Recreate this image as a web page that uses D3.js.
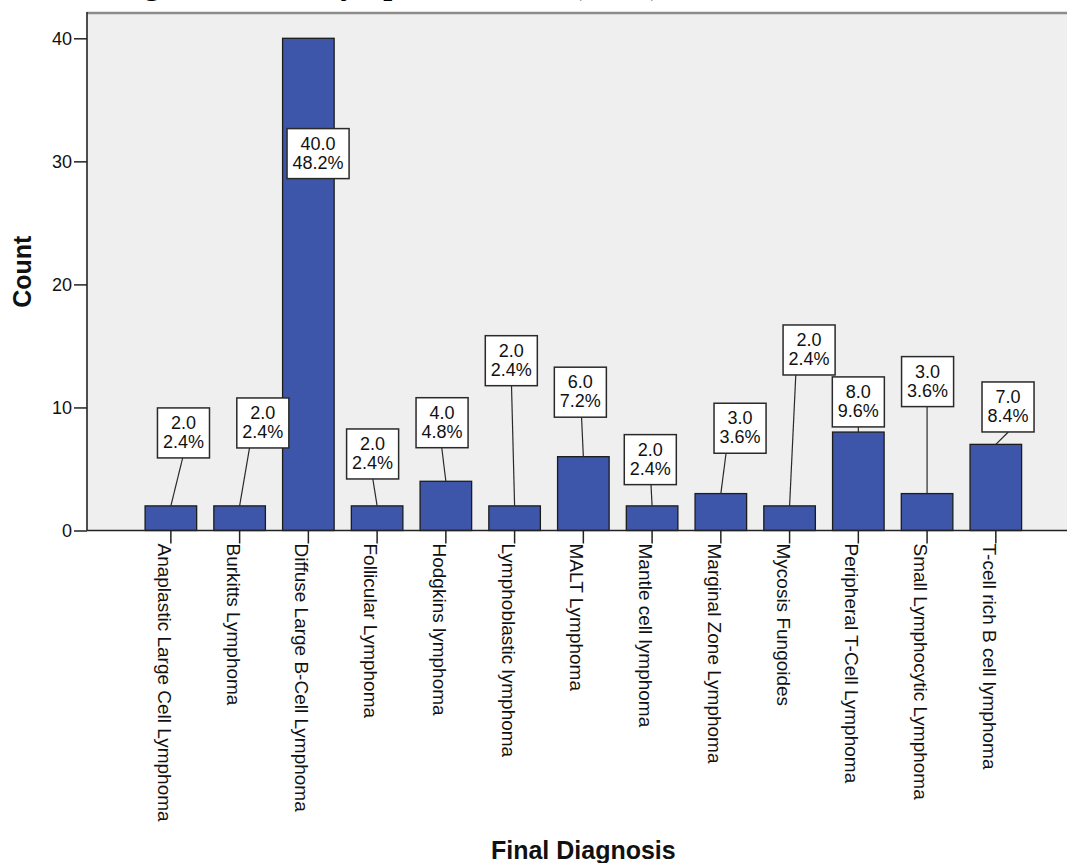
<!DOCTYPE html>
<html>
<head>
<meta charset="utf-8">
<script src="https://cdn.jsdelivr.net/npm/d3@7"></script>
<style>
  body { margin: 0; background: #fff; }
  svg { display: block; }
  text { font-family: "Liberation Sans", Arial, sans-serif; }
</style>
</head>
<body>
<svg id="chart" width="1067" height="863"></svg>
<script>
// ---- data ----
const categories = [
  "Anaplastic Large Cell Lymphoma",
  "Burkitts Lymphoma",
  "Diffuse Large B-Cell Lymphoma",
  "Follicular Lymphoma",
  "Hodgkins lymphoma",
  "Lymphoblastic lymphoma",
  "MALT Lymphoma",
  "Mantle cell lymphoma",
  "Marginal Zone Lymphoma",
  "Mycosis Fungoides",
  "Peripheral T-Cell Lymphoma",
  "Small Lymphocytic Lymphoma",
  "T-cell rich B cell lymphoma"
];
const counts   = [2, 2, 40, 2, 4, 2, 6, 2, 3, 2, 8, 3, 7];
const percents = ["2.4%", "2.4%", "48.2%", "2.4%", "4.8%", "2.4%", "7.2%", "2.4%", "3.6%", "2.4%", "9.6%", "3.6%", "8.4%"];
const yTicks   = [0, 10, 20, 30, 40];
const titleText = "Final Diagnosis of the Lymphoma Cases (n=83)";
const xTitle = "Final Diagnosis";
const yTitle = "Count";

// ---- label layout (box centre offset px from band centre, box centre height in count units, leader end offset px) ----
const labelDx  = [12.6, 23.2, 9.7, -4.5, -3.8, -3.3, -3, -1.8, 19.2, 19.5, 0, 0.5, 12.2];
const labelY   = [7.93, 8.74, 30.63, 6.22, 8.76, 13.80, 11.24, 5.76, 8.31, 14.67, 10.45, 12.10, 10.04];
const leaderDx = [11.8, 9.9, null, -4.3, -4.1, -3.1, -1.8, -1.1, 5.2, 6.2, 0, 0, 12.5];

// ---- layout ----
const W = 1067, H = 863;
const plotLeft = 87, plotTop = 13, plotBottom = 530.5, plotRight = W;

const svg = d3.select("#chart");

const y = d3.scaleLinear().domain([0, 40]).range([plotBottom, 38.3]);
const x = d3.scaleBand().domain(categories)
  .range([136.5, 1030.2]).paddingInner(0.25).paddingOuter(0.125);
const cx = d => x(d) + x.bandwidth() / 2;

// title (cropped at the top edge, as in the reference)
const title = svg.append("text")
  .attr("y", -6)
  .style("font-family", "'Liberation Serif', 'Times New Roman', serif")
  .attr("font-weight", "bold")
  .attr("font-size", 32)
  .attr("fill", "#000")
  .text(titleText);
{
  const node = title.node();
  const gi = titleText.indexOf("g");
  const before = node.getSubStringLength(0, gi);
  const gw = node.getSubStringLength(gi, 1);
  title.attr("x", 152 - before - gw / 2);
}

// plot background
svg.append("rect")
  .attr("x", plotLeft).attr("y", plotTop)
  .attr("width", plotRight - plotLeft).attr("height", plotBottom - plotTop)
  .attr("fill", "#efefef");

svg.append("line")
  .attr("x1", plotLeft).attr("x2", plotRight)
  .attr("y1", plotTop).attr("y2", plotTop)
  .attr("stroke", "#8c8c8c").attr("stroke-width", 2.5);

// bars
svg.append("g").selectAll("rect")
  .data(categories)
  .join("rect")
  .attr("x", d => x(d))
  .attr("y", (d, i) => y(counts[i]))
  .attr("width", x.bandwidth())
  .attr("height", (d, i) => plotBottom - y(counts[i]))
  .attr("fill", "#3d56a9")
  .attr("stroke", "#1c1c1c")
  .attr("stroke-width", 1.3);

// axes
const yAxis = d3.axisLeft(y).tickValues(yTicks).tickSize(13).tickPadding(2).tickSizeOuter(0);
const gy = svg.append("g").attr("transform", `translate(${plotLeft},0)`).call(yAxis);
gy.select(".domain").remove();
gy.selectAll(".tick line").attr("stroke", "#222").attr("stroke-width", 1.5);
gy.selectAll(".tick text").attr("font-size", 18).attr("fill", "#111")
  .style("font-family", "'Liberation Sans', Arial, sans-serif");

svg.append("line")
  .attr("x1", plotLeft).attr("x2", plotLeft)
  .attr("y1", plotTop - 1).attr("y2", plotBottom)
  .attr("stroke", "#222").attr("stroke-width", 1.6);

const xAxis = d3.axisBottom(x).tickSize(13).tickSizeOuter(0);
const gx = svg.append("g").attr("transform", `translate(0,${plotBottom})`).call(xAxis);
gx.select(".domain").remove();
gx.selectAll(".tick line").attr("stroke", "#222").attr("stroke-width", 1.5);
gx.selectAll(".tick text")
  .attr("font-size", 19).attr("fill", "#111")
  .style("font-family", "'Liberation Sans', Arial, sans-serif")
  .attr("text-anchor", "start")
  .attr("transform", "translate(0,13) rotate(90)")
  .attr("x", 0).attr("y", 13).attr("dy", 0);

svg.append("line")
  .attr("x1", plotLeft).attr("x2", plotRight)
  .attr("y1", plotBottom).attr("y2", plotBottom)
  .attr("stroke", "#222").attr("stroke-width", 1.6);

// leaders
const boxH = 50;
svg.append("g").selectAll("line")
  .data(categories.map((c, i) => ({c, i})).filter(d => leaderDx[d.i] !== null))
  .join("line")
  .attr("x1", d => cx(d.c))
  .attr("y1", d => y(counts[d.i]))
  .attr("x2", d => cx(d.c) + leaderDx[d.i])
  .attr("y2", d => y(labelY[d.i]) + boxH / 2)
  .attr("stroke", "#2a2a2a").attr("stroke-width", 1.2);

// label boxes
const lg = svg.append("g").selectAll("g")
  .data(categories)
  .join("g")
  .attr("transform", (d, i) => `translate(${cx(d) + labelDx[i]},${y(labelY[i])})`);

lg.each(function(d, i) {
  const g = d3.select(this);
  const rect = g.append("rect");
  const t1 = g.append("text").attr("text-anchor", "middle").attr("font-size", 18)
    .attr("fill", "#111").attr("y", -boxH / 2 + 21).text(counts[i].toFixed(1));
  const t2 = g.append("text").attr("text-anchor", "middle").attr("font-size", 18)
    .attr("fill", "#111").attr("y", -boxH / 2 + 40).text(percents[i]);
  const w = Math.max(t1.node().getComputedTextLength(), t2.node().getComputedTextLength()) + 11;
  rect.attr("x", -w / 2).attr("y", -boxH / 2).attr("width", w).attr("height", boxH)
    .attr("fill", "#fff").attr("stroke", "#2a2a2a").attr("stroke-width", 1.5);
});

// axis titles
svg.append("text")
  .attr("x", (x.range()[0] + x.range()[1]) / 2).attr("y", 859)
  .attr("text-anchor", "middle")
  .attr("font-size", 25).attr("font-weight", "bold").attr("fill", "#111")
  .text(xTitle);

svg.append("text")
  .attr("transform", `translate(31,${(plotTop + plotBottom) / 2}) rotate(-90)`)
  .attr("text-anchor", "middle")
  .attr("font-size", 25).attr("font-weight", "bold").attr("fill", "#111")
  .text(yTitle);
</script>
</body>
</html>
